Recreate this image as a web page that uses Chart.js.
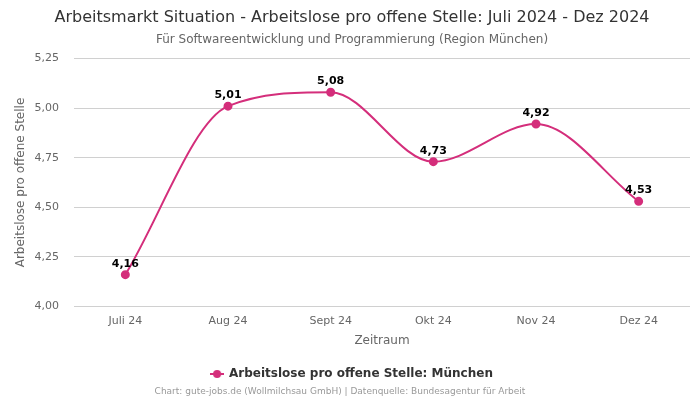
<!DOCTYPE html>
<html>
<head>
<meta charset="utf-8">
<script src="https://cdn.jsdelivr.net/npm/chart.js@4/dist/chart.umd.min.js"></script>
<style>
html,body{margin:0;padding:0;background:#fff;}
#wrap{width:700px;height:400px;position:relative;}
</style>
</head>
<body>
<div id="wrap"><canvas id="c" width="700" height="400"></canvas></div>
<script>
const categories = ["Juli 24", "Aug 24", "Sept 24", "Okt 24", "Nov 24", "Dez 24"];
const values = [4.16, 5.01, 5.08, 4.73, 4.92, 4.53];
const yTicks = [4.00, 4.25, 4.50, 4.75, 5.00, 5.25];
const seriesName = "Arbeitslose pro offene Stelle: München";
const titleText = "Arbeitsmarkt Situation - Arbeitslose pro offene Stelle: Juli 2024 - Dez 2024";
const subtitleText = "Für Softwareentwicklung und Programmierung (Region München)";
const footerText = "Chart: gute-jobs.de (Wollmilchsau GmbH) | Datenquelle: Bundesagentur für Arbeit";

const COLOR = "#d42e7b";
const FONT = "'DejaVu Sans', sans-serif";
const fmt = v => v.toFixed(2).replace('.', ',');

// legend icon: line with circle
const icon = document.createElement('canvas');
icon.width = 14; icon.height = 10;
(function(){
  const g = icon.getContext('2d');
  g.strokeStyle = COLOR; g.lineWidth = 2;
  g.beginPath(); g.moveTo(0,5); g.lineTo(14,5); g.stroke();
  g.fillStyle = COLOR; g.beginPath(); g.arc(7,5,4,0,Math.PI*2); g.fill();
})();

const labelPlugin = {
  id: 'valueLabels',
  afterDatasetsDraw(chart) {
    const ctx = chart.ctx;
    const meta = chart.getDatasetMeta(0);
    ctx.save();
    ctx.font = "bold 11px " + FONT;
    ctx.fillStyle = "#000";
    ctx.textAlign = "center";
    ctx.textBaseline = "middle";
    meta.data.forEach((pt, i) => {
      ctx.fillText(fmt(chart.data.datasets[0].data[i]), pt.x, pt.y - 11);
    });
    ctx.restore();
  }
};

const footerPlugin = {
  id: 'footerText',
  afterDraw(chart) {
    const ctx = chart.ctx;
    ctx.save();
    ctx.font = "9px " + FONT;
    ctx.fillStyle = "#999";
    ctx.textAlign = "center";
    ctx.textBaseline = "middle";
    ctx.fillText(footerText, 340, 392);
    ctx.restore();
  }
};

new Chart(document.getElementById('c'), {
  type: 'line',
  data: {
    labels: categories,
    datasets: [{
      label: seriesName,
      data: values,
      borderColor: COLOR,
      backgroundColor: COLOR,
      pointBackgroundColor: COLOR,
      pointBorderColor: COLOR,
      pointRadius: 3.5,
      borderWidth: 2,
      cubicInterpolationMode: 'monotone',
      fill: false
    }]
  },
  options: {
    responsive: false,
    animation: false,
    layout: { padding: { left: 14, right: 10, top: 6, bottom: 10 } },
    plugins: {
      title: {
        display: true,
        text: titleText,
        color: "#333",
        font: { family: FONT, size: 16, weight: 'normal' },
        padding: { top: 2, bottom: 4 }
      },
      subtitle: {
        display: true,
        text: subtitleText,
        color: "#666",
        font: { family: FONT, size: 12, weight: 'normal' },
        padding: { top: 1, bottom: 12 }
      },
      legend: {
        position: 'bottom',
        labels: {
          usePointStyle: true,
          pointStyle: icon,
          color: "#333",
          font: { family: FONT, size: 12, weight: 'bold' },
          padding: 10
        }
      },
      tooltip: { enabled: false }
    },
    scales: {
      x: {
        offset: true,
        grid: { display: false },
        border: { display: false },
        ticks: { color: "#666", font: { family: FONT, size: 11 }, padding: 0 },
        title: { display: true, text: "Zeitraum", color: "#666", font: { family: FONT, size: 12 }, padding: { top: 6, bottom: 10 } }
      },
      y: {
        min: 4.0,
        max: 5.25,
        afterBuildTicks: axis => { axis.ticks = yTicks.map(v => ({ value: v })); },
        afterFit: axis => { axis.width = 60; },
        grid: { color: "#d0d0d0", drawTicks: false },
        border: { display: false },
        ticks: { color: "#666", font: { family: FONT, size: 11 }, padding: 15, callback: v => fmt(v) },
        title: { display: true, text: "Arbeitslose pro offene Stelle", color: "#666", font: { family: FONT, size: 12 }, padding: { top: 0, bottom: 0 } }
      }
    }
  },
  plugins: [labelPlugin, footerPlugin]
});
</script>
</body>
</html>
